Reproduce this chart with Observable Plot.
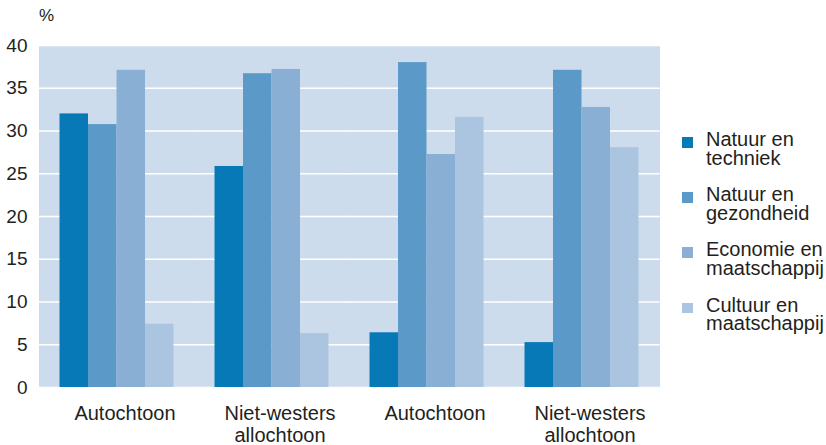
<!DOCTYPE html>
<html>
<head>
<meta charset="utf-8">
<script src="https://cdn.jsdelivr.net/npm/d3@7"></script>
<script src="https://cdn.jsdelivr.net/npm/@observablehq/plot@0.6"></script>
<style>
  body { margin: 0; background: #fff; font-family: "Liberation Sans", Arial, sans-serif; color: #231f20; }
  #wrap { position: relative; width: 826px; height: 445px; overflow: hidden; }
  #wrap svg { position: absolute; left: 0; top: 0; }
  .unit { position: absolute; left: 39px; top: 7px; font-size: 17px; line-height: 17px; }
  .entry { position: absolute; left: 706px; font-size: 20px; line-height: 18.5px; white-space: pre; }
  .sw { position: absolute; left: -24px; top: 7px; width: 11px; height: 10.5px; }
</style>
</head>
<body>
<div id="wrap"></div>
<script>
const groups = ["g1", "g2", "g3", "g4"];
const groupLabels = ["Autochtoon", "Niet-westers\nallochtoon", "Autochtoon", "Niet-westers\nallochtoon"];
const series = ["Natuur en techniek", "Natuur en gezondheid", "Economie en maatschappij", "Cultuur en maatschappij"];
const legendLabels = ["Natuur en\ntechniek", "Natuur en\ngezondheid", "Economie en\nmaatschappij", "Cultuur en\nmaatschappij"];
const colors = ["#0779b7", "#5b9ac8", "#8aafd5", "#abc4e0"];
const natuurTechniek = [32.0, 25.85, 6.4, 5.25];
const natuurGezondheid = [30.75, 36.7, 38.0, 37.1];
const economieMaatschappij = [37.1, 37.2, 27.25, 32.75];
const cultuurMaatschappij = [7.4, 6.3, 31.6, 28.05];
const yTicks = [0, 5, 10, 15, 20, 25, 30, 35, 40];
const unitLabel = "%";

const seriesValues = [natuurTechniek, natuurGezondheid, economieMaatschappij, cultuurMaatschappij];
const data = [];
groups.forEach((g, gi) => {
  series.forEach((s, si) => {
    data.push({group: g, series: s, value: seriesValues[si][gi]});
  });
});

const chart = Plot.plot({
  width: 826,
  height: 445,
  marginLeft: 39,
  marginRight: 167,
  marginTop: 45,
  marginBottom: 58,
  style: {fontFamily: "'Liberation Sans', Arial, sans-serif", fontSize: "19px", color: "#231f20", background: "transparent"},
  fx: {domain: groups, padding: 0, round: false},
  x: {domain: series, paddingInner: 0, paddingOuter: 0.72, round: false, axis: null},
  y: {domain: [0, 40]},
  color: {domain: series, range: colors},
  marks: [
    Plot.frame({fill: "#cddcec", stroke: null, insetLeft: -0.6, insetRight: -0.6, shapeRendering: "crispEdges"}),
    Plot.ruleY(yTicks, {stroke: "white", strokeWidth: 1.5, insetLeft: -0.6, insetRight: -0.6}),
    Plot.barY(data, {fx: "group", x: "series", y: "value", fill: "series"}),
    Plot.axisY({ticks: yTicks, tickSize: 0, tickPadding: 12, fontSize: 19, label: null}),
    Plot.axisFx({anchor: "bottom", tickSize: 0, tickPadding: 17, fontSize: 20, lineHeight: 1.1, dx: 8,
      tickFormat: d => groupLabels[groups.indexOf(d)], label: null})
  ]
});

const wrap = document.getElementById("wrap");
wrap.appendChild(chart);

const unit = document.createElement("div");
unit.className = "unit";
unit.textContent = unitLabel;
wrap.appendChild(unit);

legendLabels.forEach((lab, i) => {
  const e = document.createElement("div");
  e.className = "entry";
  e.style.top = (130 + i * 55.2) + "px";
  e.textContent = lab;
  const sw = document.createElement("div");
  sw.className = "sw";
  sw.style.background = colors[i];
  e.appendChild(sw);
  wrap.appendChild(e);
});
</script>
</body>
</html>
